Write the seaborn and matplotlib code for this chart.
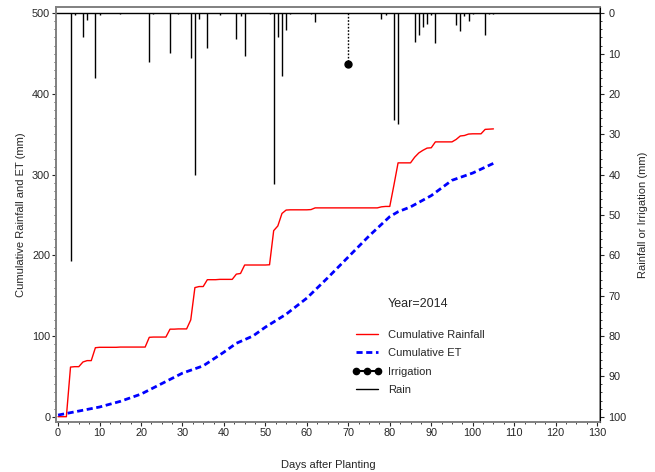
import numpy as np
import pandas as pd
import matplotlib
matplotlib.use("Agg")
import matplotlib.pyplot as plt
from matplotlib.lines import Line2D
from matplotlib.ticker import MultipleLocator
import seaborn as sns

# daily rain events (day after planting, mm)
rain_days = [3, 4, 6, 7, 9, 10, 15, 22, 23, 27, 29, 32, 33, 34, 36, 39, 43, 44, 45,
             51, 52, 53, 54, 55, 56, 61, 62, 78, 79, 81, 82, 86, 87, 88, 89, 90, 91,
             96, 97, 98, 99, 100, 103, 104, 105]
rain_mm = [61.5, 0.5, 5.8, 1.7, 16.0, 0.5, 0.3, 12.1, 0.3, 9.8, 0.3, 11.2, 40.0, 1.3,
           8.5, 0.4, 6.5, 0.8, 10.5, 0.3, 42.3, 5.8, 15.5, 4.2, 0.3, 0.3, 2.1, 1.3,
           0.5, 26.5, 27.5, 7.0, 5.3, 3.3, 2.7, 0.4, 7.3, 3.0, 4.3, 0.6, 1.8, 0.3,
           5.5, 0.3, 0.3]

# irrigation
irr_days = [70]
irr_mm = [12.6]

# cumulative ET
et_days = [0, 5, 10, 15, 20, 25, 30, 35, 40, 43, 47, 50, 55, 60, 65, 70, 75, 80,
           82, 85, 90, 95, 100, 105]
et_mm = [2, 7, 12, 19, 28, 41, 54, 63, 80, 91, 100, 111, 127, 147, 172, 198, 224,
         248, 254, 260, 274, 293, 302, 314]

last_day = 105

# cumulative rainfall from the daily record
daily = pd.Series(0.0, index=np.arange(0, last_day + 1))
daily.loc[rain_days] = rain_mm
cum_df = pd.DataFrame({"day": daily.index, "cum": daily.cumsum().values})
et_df = pd.DataFrame({"day": et_days, "et": et_mm})

sns.set_style("ticks")
plt.rcParams["font.family"] = ["Liberation Sans", "DejaVu Sans"]
plt.rcParams["font.size"] = 8

fig, ax = plt.subplots(figsize=(6.55, 4.72), dpi=100)
fig.subplots_adjust(left=56 / 655, right=600 / 655, top=1 - 7.3 / 472, bottom=1 - 421.7 / 472)

sns.lineplot(data=cum_df, x="day", y="cum", ax=ax, color="#ff0000", lw=1.0)
sns.lineplot(data=et_df, x="day", y="et", ax=ax, color="#0000ff", lw=2.0,
             linestyle=(0, (2.2, 1.3)))

ax.set_xlim(-0.5, 130.7)
ax.set_ylim(-6.2, 507.4)
ax.xaxis.set_major_locator(MultipleLocator(10))
ax.xaxis.set_minor_locator(MultipleLocator(2.5))
ax.yaxis.set_major_locator(MultipleLocator(100))
ax.yaxis.set_minor_locator(MultipleLocator(10))
ax.set_xlabel("Days after Planting", fontsize=8, labelpad=16)
ax.set_ylabel("Cumulative Rainfall and ET (mm)", fontsize=8, labelpad=4)

# rain / irrigation on inverted right axis
ax2 = ax.twinx()
ax2.vlines(rain_days, 0, rain_mm, color="black", lw=1.0)
ax2.vlines(irr_days, 0, irr_mm, color="black", lw=1.0, linestyles=(0, (1.2, 1.2)))
ax2.plot(irr_days, irr_mm, "o", color="black", ms=5)
ax2.axhline(0, color="black", lw=1.0)
ax2.set_ylim(101.24, -1.48)
ax2.yaxis.set_major_locator(MultipleLocator(10))
ax2.yaxis.set_minor_locator(MultipleLocator(2))
ax2.set_ylabel("Rainfall or Irrigation (mm)", fontsize=8, labelpad=8)

for a in (ax, ax2):
    a.tick_params(which="major", length=3, width=0.8, labelsize=7.8, pad=1.2)
    a.tick_params(which="minor", length=1.6, width=0.6)
    for s in a.spines.values():
        s.set_color("#808080")
        s.set_linewidth(1.2)
ax2.spines["right"].set_color("black")
ax2.spines["right"].set_linewidth(0.8)
ax2.tick_params(axis="y", which="major", pad=3)

ax.text(0.665, 0.284, "Year=2014", transform=ax.transAxes, ha="center", va="center",
        fontsize=9)

handles = [
    Line2D([], [], color="#ff0000", lw=1.0),
    Line2D([], [], color="#0000ff", lw=2.0, linestyle=(0, (2.2, 1.3))),
    Line2D([], [], color="black", lw=1.5, marker="o", ms=4.5),
    Line2D([], [], color="black", lw=1.0),
]
labels = ["Cumulative Rainfall", "Cumulative ET", "Irrigation", "Rain"]
ax.legend(handles, labels, loc="upper left", bbox_to_anchor=(0.545, 0.222),
          frameon=False, fontsize=8, borderpad=0, borderaxespad=0,
          handlelength=2.6, handletextpad=0.6, labelspacing=0.76, numpoints=3)

fig.savefig("out.png", dpi=100)
